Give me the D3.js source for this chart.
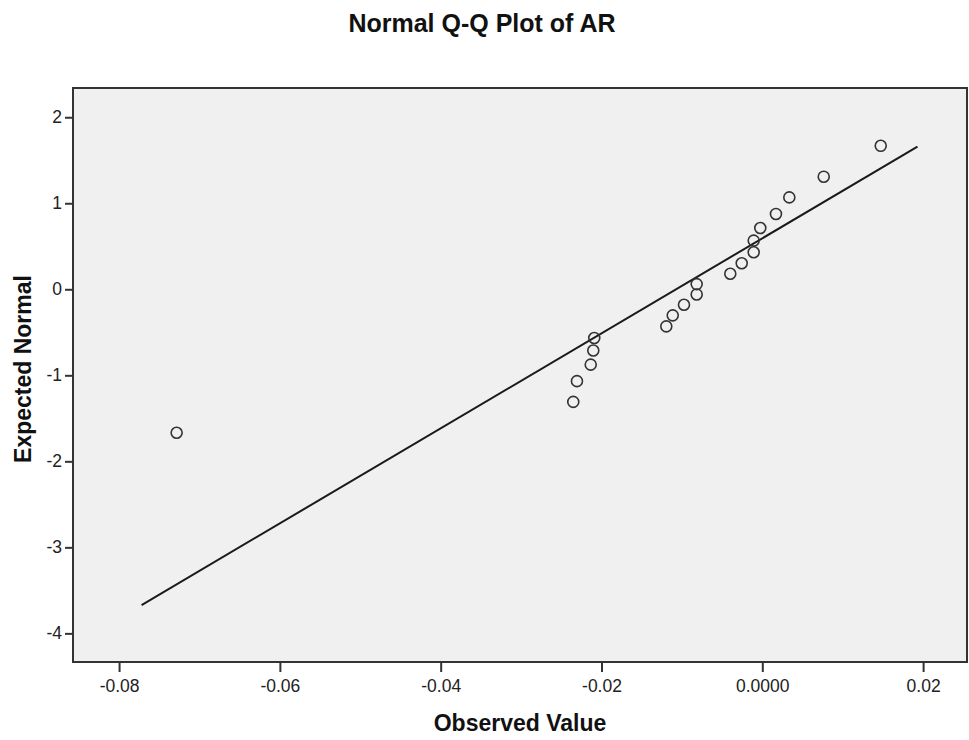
<!DOCTYPE html>
<html>
<head>
<meta charset="utf-8">
<script src="https://cdn.jsdelivr.net/npm/d3@7"></script>
<style>
  body { margin: 0; background: #fff; }
  svg { display: block; font-family: "Liberation Sans", Arial, sans-serif; }
</style>
</head>
<body>
<svg width="969" height="740"></svg>
<script>
// Observed AR values (sorted) and their expected normal scores
const observed = [-0.07284, -0.02351, -0.02305, -0.02134, -0.02102, -0.02090, -0.01194, -0.01114,
  -0.00974, -0.00816, -0.00816, -0.00398, -0.00256, -0.00107, -0.00107, -0.00025,
  0.00170, 0.00336, 0.00764, 0.01473];
const expected = [-1.668, -1.309, -1.068, -0.876, -0.712, -0.566, -0.431, -0.303, -0.180, -0.060,
  0.060, 0.180, 0.303, 0.431, 0.566, 0.712, 0.876, 1.068, 1.309, 1.668];

// reference line end points
const lineX = [-0.0772, 0.0193];
const lineY = [-3.671, 1.658];

const xTicks = [-0.08, -0.06, -0.04, -0.02, 0, 0.02];
const xTickLabels = ["-0.08", "-0.06", "-0.04", "-0.02", "0.0000", "0.02"];
const yTicks = [-4, -3, -2, -1, 0, 1, 2];
const yTickLabels = ["-4", "-3", "-2", "-1", "0", "1", "2"];

const svg = d3.select("svg");
const plotL = 73, plotR = 967, plotT = 88, plotB = 662;

const x = d3.scaleLinear().domain([-0.08573, 0.02546]).range([plotL, plotR]);
const y = d3.scaleLinear().domain([-4.333, 2.34]).range([plotB, plotT]);

// plot background + frame
svg.append("rect")
  .attr("x", plotL).attr("y", plotT)
  .attr("width", plotR - plotL).attr("height", plotB - plotT)
  .attr("fill", "#f0f0f0")
  .attr("stroke", "#333").attr("stroke-width", 2);

// axes
const xAxis = svg.append("g")
  .attr("transform", `translate(0,${plotB})`)
  .call(d3.axisBottom(x).tickValues(xTicks)
    .tickFormat((d, i) => xTickLabels[i]).tickSize(10).tickPadding(8));

const yAxis = svg.append("g")
  .attr("transform", `translate(${plotL},0)`)
  .call(d3.axisLeft(y).tickValues(yTicks)
    .tickFormat((d, i) => yTickLabels[i]).tickSize(8).tickPadding(3));

[xAxis, yAxis].forEach(g => {
  g.select(".domain").remove();
  g.selectAll(".tick line").attr("stroke", "#333").attr("stroke-width", 2);
  g.selectAll(".tick text").attr("fill", "#222").attr("font-size", 17.5)
    .attr("font-family", "Liberation Sans, Arial, sans-serif");
});

// fitted line
svg.append("line")
  .attr("x1", x(lineX[0])).attr("y1", y(lineY[0]))
  .attr("x2", x(lineX[1])).attr("y2", y(lineY[1]))
  .attr("stroke", "#1a1a1a").attr("stroke-width", 2);

// points
svg.append("g")
  .selectAll("circle")
  .data(observed)
  .join("circle")
  .attr("cx", d => x(d))
  .attr("cy", (d, i) => y(expected[i]))
  .attr("r", 5.5)
  .attr("fill", "none")
  .attr("stroke", "#333")
  .attr("stroke-width", 1.6);

// titles
svg.append("text")
  .attr("x", 482).attr("y", 32)
  .attr("text-anchor", "middle")
  .attr("font-size", 25).attr("font-weight", "bold").attr("fill", "#111")
  .text("Normal Q-Q Plot of AR");

svg.append("text")
  .attr("x", (plotL + plotR) / 2).attr("y", 731)
  .attr("text-anchor", "middle")
  .attr("font-size", 23).attr("font-weight", "bold").attr("fill", "#111")
  .text("Observed Value");

svg.append("text")
  .attr("transform", `translate(31,${(plotT + plotB) / 2 - 6}) rotate(-90)`)
  .attr("text-anchor", "middle")
  .attr("font-size", 23).attr("font-weight", "bold").attr("fill", "#111")
  .text("Expected Normal");
</script>
</body>
</html>
